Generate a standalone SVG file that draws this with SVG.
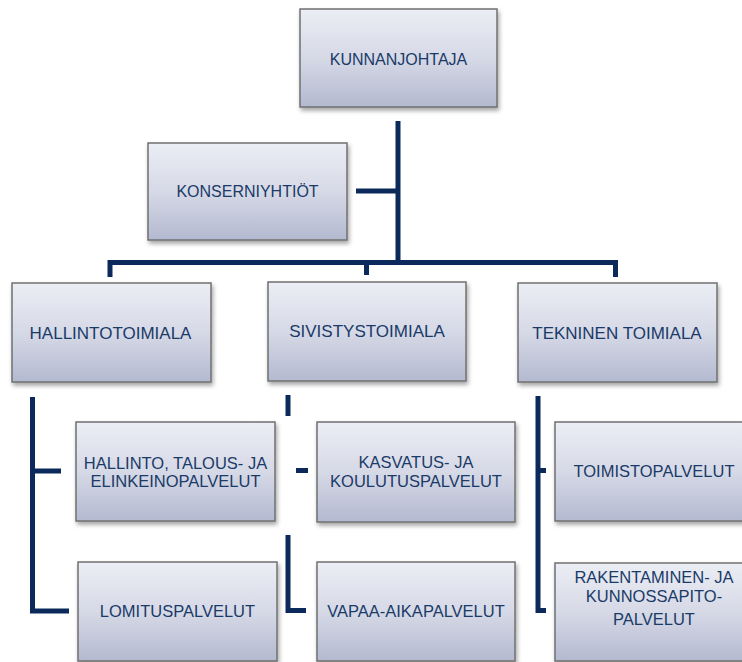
<svg xmlns="http://www.w3.org/2000/svg" width="742" height="662" viewBox="0 0 742 662">
<style>
.box{fill:url(#g);stroke:#707070;stroke-width:1.5;filter:url(#sh)}
.t{font-family:"Liberation Sans",Arial,sans-serif;fill:#1a3a68;text-anchor:middle}
.s16{font-size:16px}.s17{font-size:17px}.s165{font-size:16.5px}
.c{fill:none;stroke:#0b2a5b;stroke-width:5;stroke-linejoin:miter}
</style>
<defs>
<linearGradient id="g" x1="0" y1="0" x2="0" y2="1">
<stop offset="0" stop-color="#eceef5"/>
<stop offset="0.5" stop-color="#d6d9e6"/>
<stop offset="1" stop-color="#b3b9d0"/>
</linearGradient>
<filter id="sh" x="-10%" y="-10%" width="125%" height="130%">
<feDropShadow dx="1.5" dy="3" stdDeviation="2" flood-color="#000" flood-opacity="0.35"/>
</filter>
</defs>
<rect width="742" height="662" fill="#fff"/>
<g id="connectors">
<path class="c" d="M398,121 V262.5"/>
<path class="c" d="M356,191 H398"/>
<path class="c" d="M110,277 V262.5 H615.5 V277"/>
<path class="c" d="M366.5,262.5 V275"/>
<path class="c" d="M32.5,397 V611 H69"/>
<path class="c" d="M32.5,471 H61"/>
<path class="c" d="M288,395 V416"/>
<path class="c" d="M296,470.5 H308"/>
<path class="c" d="M288,535 V610.5 H306"/>
<path class="c" d="M538,396 V610.5 H546"/>
<path class="c" d="M538,470.5 H546"/>
</g>
<g id="kunnanjohtaja"><rect class="box" x="300" y="9" width="197" height="98"/><text class="t s16" x="398.5" y="65">KUNNANJOHTAJA</text></g>
<g id="konserniyhtiot"><rect class="box" x="148" y="143" width="199" height="97"/><text class="t s16" x="247.5" y="197">KONSERNIYHTIÖT</text></g>
<g id="hallintotoimiala"><rect class="box" x="12" y="283" width="199" height="99"/><text class="t s17" x="110.5" y="338.5">HALLINTOTOIMIALA</text></g>
<g id="sivistystoimiala"><rect class="box" x="268" y="282" width="198" height="99"/><text class="t s17" x="367" y="337">SIVISTYSTOIMIALA</text></g>
<g id="tekninen"><rect class="box" x="518" y="283" width="199" height="99"/><text class="t s17" x="617" y="338.5">TEKNINEN TOIMIALA</text></g>
<g id="hallinto-talous"><rect class="box" x="76" y="422" width="199" height="99"/><text class="t s165" x="175.5" y="469">HALLINTO, TALOUS- JA</text><text class="t s165" x="175.5" y="487">ELINKEINOPALVELUT</text></g>
<g id="kasvatus"><rect class="box" x="317" y="422" width="198" height="100"/><text class="t s165" x="416" y="468">KASVATUS- JA</text><text class="t s165" x="416" y="487">KOULUTUSPALVELUT</text></g>
<g id="toimisto"><rect class="box" x="555" y="422" width="198" height="99"/><text class="t s165" x="654" y="477">TOIMISTOPALVELUT</text></g>
<g id="lomitus"><rect class="box" x="78" y="562" width="199" height="99"/><text class="t s165" x="177.5" y="617">LOMITUSPALVELUT</text></g>
<g id="vapaa-aika"><rect class="box" x="317" y="562" width="198" height="99"/><text class="t s165" x="416" y="617">VAPAA-AIKAPALVELUT</text></g>
<g id="rakentaminen"><rect class="box" x="555" y="563" width="198" height="98"/><text class="t s165" x="654" y="583">RAKENTAMINEN- JA</text><text class="t s165" x="654" y="601.5">KUNNOSSAPITO-</text><text class="t s165" x="654" y="625">PALVELUT</text></g>
</svg>
